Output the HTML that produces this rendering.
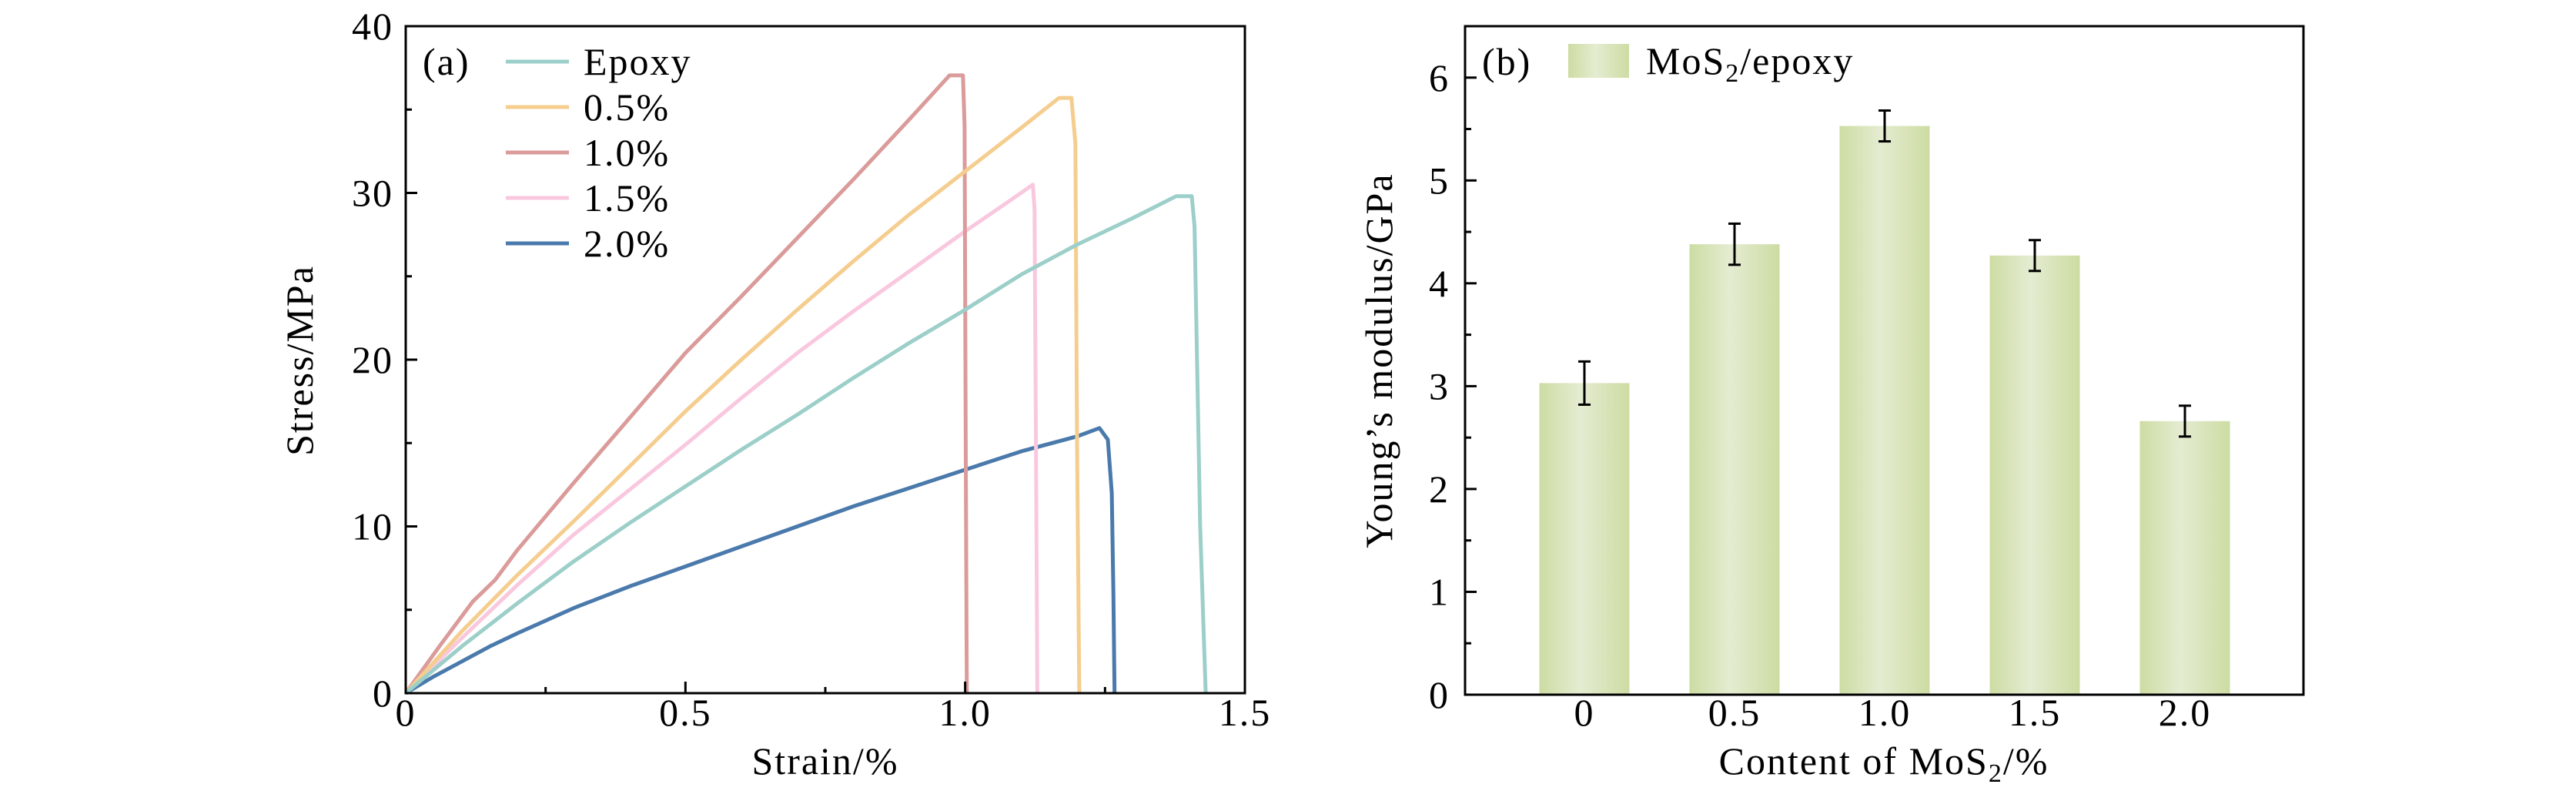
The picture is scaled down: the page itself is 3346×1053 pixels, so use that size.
<!DOCTYPE html>
<html><head><meta charset="utf-8"><style>
body{margin:0;background:#fff}
svg{display:block}
text{font-family:"Liberation Serif",serif;fill:#000;letter-spacing:2px}
</style></head><body>
<svg id="fig" width="3346" height="1053" viewBox="0 0 3346 1053" xmlns="http://www.w3.org/2000/svg">
<defs>
<linearGradient id="barg" x1="0" x2="1" y1="0" y2="0">
<stop offset="0" stop-color="#cddca3"/><stop offset="0.45" stop-color="#e4ecd1"/><stop offset="1" stop-color="#cddca3"/>
</linearGradient>
</defs>
<g id="pa"></g>
<g id="pb"></g>
</svg>
<script>
// ---- Chart (a) data ----
const seriesNames = ["Epoxy","0.5%","1.0%","1.5%","2.0%"];
const seriesColors = ["#9ccfc9","#f5cd8e","#da9b9a","#f9c8df","#4a7aab"];
const strainEpoxy = [0,0.1,0.2,0.3,0.4,0.5,0.6,0.7,0.8,0.9,1.0,1.1,1.2,1.3,1.377,1.405,1.41,1.42,1.43];
const stressEpoxy = [0,2.8,5.4,7.9,10.2,12.4,14.6,16.7,18.9,21.0,23.0,25.1,26.9,28.5,29.8,29.8,28,10,0];
const strain05 = [0,0.1,0.2,0.3,0.4,0.5,0.6,0.7,0.8,0.9,1.0,1.1,1.168,1.19,1.197,1.2,1.204];
const stress05 = [0,3.7,7.1,10.3,13.6,16.9,20.0,23.0,25.9,28.7,31.3,33.9,35.7,35.7,33,15,0];
const strain10 = [0,0.06,0.12,0.16,0.2,0.3,0.4,0.5,0.6,0.7,0.8,0.9,0.972,0.996,0.999,1.001,1.003];
const stress10 = [0,2.8,5.5,6.8,8.6,12.6,16.5,20.4,23.8,27.3,30.8,34.4,37.05,37.05,34,15,0];
const strain15 = [0,0.1,0.2,0.3,0.4,0.5,0.6,0.7,0.8,0.9,1.0,1.1,1.121,1.124,1.127,1.129];
const stress15 = [0,3.3,6.5,9.5,12.2,14.9,17.7,20.4,22.9,25.3,27.7,30.0,30.5,29,12,0];
const strain20 = [0,0.05,0.1,0.15,0.2,0.3,0.4,0.5,0.6,0.7,0.8,0.9,1.0,1.1,1.2,1.24,1.255,1.262,1.265,1.267];
const stress20 = [0,1.0,1.9,2.8,3.6,5.1,6.4,7.6,8.8,10.0,11.2,12.3,13.4,14.5,15.4,15.9,15.2,12,6,0];
const xTicksA = [0,0.5,1.0,1.5];
const xTickLabelsA = ["0","0.5","1.0","1.5"];
const yTicksA = [0,10,20,30,40];
// ---- Chart (b) data ----
const categories = ["0","0.5","1.0","1.5","2.0"];
const modulus = [3.03,4.38,5.53,4.27,2.66];
const modulusErr = [0.21,0.20,0.15,0.15,0.15];
const yTicksB = [0,1,2,3,4,5,6];

const NS="http://www.w3.org/2000/svg";
function mk(parent,tag,attrs,txt){const e=document.createElementNS(NS,tag);for(const k in attrs)e.setAttribute(k,attrs[k]);if(txt!==undefined)e.textContent=txt;parent.appendChild(e);return e;}
const FS=50;

// ---- Chart (a) ----
const A={l:527,r:1617,t:34,b:900};
const xa=v=>A.l+(v-0)/1.5*(A.r-A.l);
const ya=v=>A.b-(v/40)*(A.b-A.t);
const pa=document.getElementById('pa');
const sx=[strainEpoxy,strain05,strain10,strain15,strain20];
const sy=[stressEpoxy,stress05,stress10,stress15,stress20];
const ids=["epoxy","mos2-0-5","mos2-1-0","mos2-1-5","mos2-2-0"];
for(let i=sx.length-1;i>=0;i--){
  let d=sx[i].map((x,j)=>(j?'L':'M')+xa(x).toFixed(1)+' '+ya(sy[i][j]).toFixed(1)).join(' ');
  const p=mk(pa,'path',{d:d,fill:'none',stroke:seriesColors[i],'stroke-width':5,'stroke-linejoin':'round'});
  
  
}
const fa=mk(pa,'rect',{x:A.l,y:A.t,width:A.r-A.l,height:A.b-A.t,fill:'none',stroke:'#000','stroke-width':3});


for(let v=0;v<=1.5001;v+=0.25){const X=xa(v);const maj=Math.abs(v*2-Math.round(v*2))<1e-6;mk(pa,'line',{x1:X,x2:X,y1:A.b,y2:A.b-(maj?15:8),stroke:'#000','stroke-width':3});}
for(let v=0;v<=40;v+=5){const Y=ya(v);const maj=v%10===0;mk(pa,'line',{x1:A.l,x2:A.l+(maj?15:8),y1:Y,y2:Y,stroke:'#000','stroke-width':3});}
xTicksA.forEach((v,i)=>{const t=mk(pa,'text',{x:xa(v),y:942,'font-size':FS,'text-anchor':'middle'},xTickLabelsA[i]);

});
yTicksA.forEach(v=>{const t=mk(pa,'text',{x:511,y:ya(v)+17,'font-size':FS,'text-anchor':'end'},String(v));

});
let t1=mk(pa,'text',{x:1072,y:1005,'font-size':FS,'text-anchor':'middle'},'Strain/%');


let t2=mk(pa,'text',{x:0,y:0,'font-size':FS,'text-anchor':'middle',transform:'translate(406,468) rotate(-90)'},'Stress/MPa');


let t3=mk(pa,'text',{x:549,y:97,'font-size':FS},'(a)');


const legY=[80,139,198,257,316];
seriesNames.forEach((n,i)=>{
  const g=mk(pa,'g',{});
  
  
  mk(g,'line',{x1:657,x2:739,y1:legY[i],y2:legY[i],stroke:seriesColors[i],'stroke-width':5});
  mk(g,'text',{x:758,y:legY[i]+17,'font-size':FS},n);
});

// ---- Chart (b) ----
const B={l:1903,r:2992,t:34,b:902};
const xb=i=>2058+i*195;
const yb=v=>B.b-(v/6.5)*(B.b-B.t);
const pb=document.getElementById('pb');
const bw=117;
modulus.forEach((v,i)=>{
  const r=mk(pb,'rect',{x:xb(i)-bw/2,y:yb(v),width:bw,height:B.b-yb(v),fill:'url(#barg)'});
  
  
  const g=mk(pb,'g',{stroke:'#000','stroke-width':3});
  
  
  const hi=yb(v+modulusErr[i]),lo=yb(v-modulusErr[i]);
  mk(g,'line',{x1:xb(i),x2:xb(i),y1:hi,y2:lo});
  mk(g,'line',{x1:xb(i)-8,x2:xb(i)+8,y1:hi,y2:hi});
  mk(g,'line',{x1:xb(i)-8,x2:xb(i)+8,y1:lo,y2:lo});
  const t=mk(pb,'text',{x:xb(i),y:942,'font-size':FS,'text-anchor':'middle'},categories[i]);
  
  
});
const fb=mk(pb,'rect',{x:B.l,y:B.t,width:B.r-B.l,height:B.b-B.t,fill:'none',stroke:'#000','stroke-width':3});


for(let v=0;v<=6.01;v+=0.5){const Y=yb(v);const maj=Math.abs(v-Math.round(v))<1e-6;mk(pb,'line',{x1:B.l,x2:B.l+(maj?15:8),y1:Y,y2:Y,stroke:'#000','stroke-width':3});}
yTicksB.forEach(v=>{const t=mk(pb,'text',{x:1883,y:yb(v)+17,'font-size':FS,'text-anchor':'end'},String(v));

});
let b1=mk(pb,'text',{x:2447,y:1005,'font-size':FS,'text-anchor':'middle'});


b1.innerHTML='Content of MoS<tspan font-size="34" dy="10">2</tspan><tspan dy="-10">/%</tspan>';
let b2=mk(pb,'text',{x:0,y:0,'font-size':FS,'text-anchor':'middle',transform:'translate(1808,468) rotate(-90)'},"Young\u2019s modulus/GPa");


let b3=mk(pb,'text',{x:1925,y:97,'font-size':FS},'(b)');


const lg=mk(pb,'g',{});


mk(lg,'rect',{x:2037,y:57,width:79,height:44,fill:'url(#barg)'});
const lt=mk(lg,'text',{x:2138,y:96,'font-size':FS});
lt.innerHTML='MoS<tspan font-size="34" dy="10">2</tspan><tspan dy="-10">/epoxy</tspan>';
</script>
</body></html>
